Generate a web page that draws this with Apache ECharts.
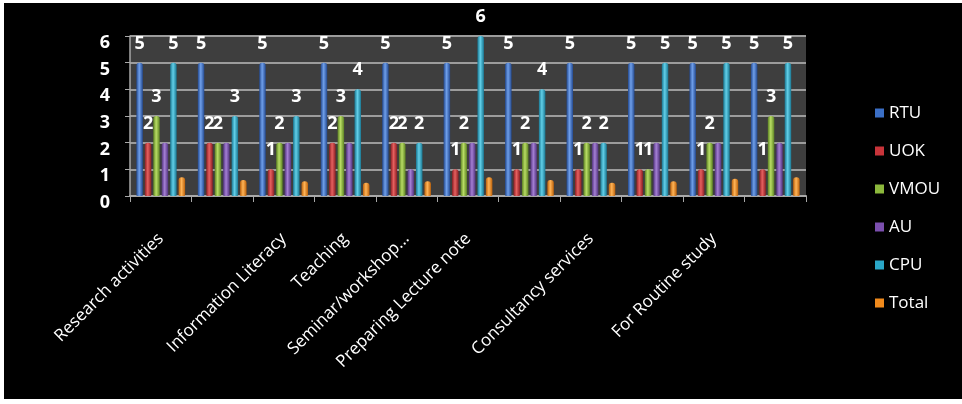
<!DOCTYPE html>
<html>
<head>
<meta charset="utf-8">
<script src="https://cdn.jsdelivr.net/npm/echarts@6/dist/echarts.min.js"></script>
<style>
  html, body { margin: 0; padding: 0; background: #ffffff; }
  #frame { position: relative; width: 962px; height: 404px; background: #ffffff; }
  #chart { position: absolute; left: 4px; top: 3px; width: 958px; height: 396px; background: #000000; }
</style>
</head>
<body>
<div id="frame"><div id="chart"></div></div>
<script>
// Purposes of use, one group of bars per purpose (blank names carry no axis text)
const categories = [
  'Research activities', '', 'Information Literacy', 'Teaching',
  'Seminar/workshop...', 'Preparing Lecture note', '', 'Consultancy services',
  '', 'For Routine study', ''
];

// Responses per university
const RTU   = [5, 5, 5, 5, 5, 5, 5, 5, 5, 5, 5];
const UOK   = [2, 2, 1, 2, 2, 1, 1, 1, 1, 1, 1];
const VMOU  = [3, 2, 2, 3, 2, 2, 2, 2, 1, 2, 3];
const AU    = [2, 2, 2, 2, 1, 2, 2, 2, 2, 2, 2];
const CPU   = [5, 3, 3, 4, 2, 6, 4, 2, 5, 5, 5];
const Total = [0.7, 0.6, 0.55, 0.5, 0.55, 0.7, 0.6, 0.5, 0.55, 0.65, 0.7];

const yTicks = [0, 1, 2, 3, 4, 5, 6];

// name, values, base colour, light, dark, show value labels
const seriesDefs = [
  ['RTU',   RTU,   '#3b6fc6', '#6f9fea', '#23498f', true],
  ['UOK',   UOK,   '#c8343a', '#e6605f', '#8c1e23', true],
  ['VMOU',  VMOU,  '#8cb83c', '#b8dc64', '#5c8222', true],
  ['AU',    AU,    '#7b4fae', '#a47fd4', '#52337e', false],
  ['CPU',   CPU,   '#2aa7c8', '#62cfe8', '#197792', true],
  ['Total', Total, '#f08a1c', '#ffb457', '#bd620b', false]
];

const FONT = '"Open Sans", "Liberation Sans", sans-serif';

function cylinder(base, light, dark) {
  return new echarts.graphic.LinearGradient(0, 0, 1, 0, [
    { offset: 0, color: dark },
    { offset: 0.45, color: light },
    { offset: 1, color: dark }
  ]);
}

const chart = echarts.init(document.getElementById('chart'), null, { renderer: 'canvas' });

chart.setOption({
  backgroundColor: '#000000',
  animation: false,
  textStyle: { fontFamily: FONT },
  grid: {
    left: 126, top: 33, width: 676, height: 160,
    show: true, backgroundColor: '#3e3e3e', borderWidth: 0
  },
  legend: {
    orient: 'vertical',
    left: 866, top: 96,
    itemWidth: 9, itemHeight: 9,
    itemGap: 20,
    icon: 'rect',
    textStyle: { color: '#ffffff', fontSize: 17, fontFamily: FONT, lineHeight: 18 },
    data: seriesDefs.map(d => ({ name: d[0], itemStyle: { color: d[2] } }))
  },
  xAxis: {
    type: 'category',
    data: categories,
    axisLine: { lineStyle: { color: '#a8a8a8', width: 2 } },
    axisTick: { show: true, length: 6, lineStyle: { color: '#a8a8a8' } },
    axisLabel: {
      interval: 0, rotate: 45, margin: 40,
      color: '#ffffff', fontSize: 17, fontFamily: FONT
    }
  },
  yAxis: {
    type: 'value',
    min: yTicks[0], max: yTicks[yTicks.length - 1], interval: 1,
    axisLine: { show: true, lineStyle: { color: '#a8a8a8', width: 1.5 } },
    axisTick: { show: true, length: 5, lineStyle: { color: '#a8a8a8' } },
    splitLine: { show: true, lineStyle: { color: '#9c9c9c', width: 2 } },
    axisLabel: {
      color: '#ffffff', fontSize: 18, fontWeight: 'bold', fontFamily: FONT,
      margin: 20, verticalAlign: 'top', lineHeight: 14
    }
  },
  series: seriesDefs.map(([name, values, base, light, dark, showLabel]) => ({
    name,
    type: 'bar',
    data: values,
    barWidth: 6.5,
    barGap: '30%',
    itemStyle: { color: cylinder(base, light, dark), borderRadius: [3, 3, 1, 1] },
    label: {
      show: showLabel,
      position: 'top',
      distance: 10,
      color: '#ffffff',
      fontSize: 18,
      fontWeight: 'bold',
      fontFamily: FONT
    }
  }))
});
</script>
</body>
</html>
